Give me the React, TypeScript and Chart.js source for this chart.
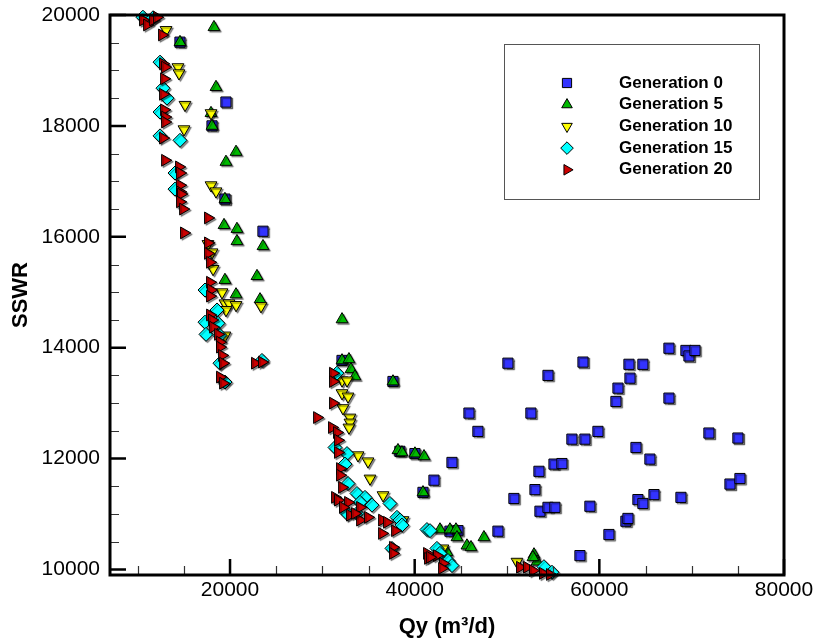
import React, { useEffect, useRef } from 'react';
import { Chart, registerables } from 'chart.js';
import { drawPoint } from 'chart.js/helpers';

Chart.register(...registerables);

const FONT = '"Liberation Sans", Arial, sans-serif';

const seriesNames = ['Generation 0', 'Generation 5', 'Generation 10', 'Generation 15', 'Generation 20'];

const xTicks = [20000, 40000, 60000, 80000];
const yTicks = [10000, 12000, 14000, 16000, 18000, 20000];

const gen0: [number, number][] = [
  [14580, 19510], [18050, 18000], [19560, 18430], [19450, 16680], [23570, 16100], [32130, 13770],
  [37650, 13390], [38400, 12130], [40030, 12090], [40900, 11390], [42090, 11610], [43820, 10690],
  [44690, 10700], [44040, 11930], [45880, 12820], [46850, 12490], [49020, 10690], [50100, 13720],
  [50750, 11280], [52590, 12820], [53030, 11440], [53460, 11770], [53570, 11050], [54440, 13500],
  [54440, 11120], [55090, 11900], [55950, 11910], [55190, 11120], [57030, 12350], [57900, 10250],
  [58230, 13740], [58440, 12350], [58980, 11140], [59850, 12490], [61040, 10630], [61800, 13030],
  [62020, 13270], [62880, 10870], [63100, 10920], [63210, 13700], [63320, 13450], [63970, 12200],
  [64180, 11260], [64720, 11190], [64720, 13700], [65480, 11990], [65920, 11350], [67540, 13990],
  [67540, 13090], [68840, 11300], [69380, 13950], [69710, 13850], [70360, 13950], [71870, 12460],
  [74150, 11540], [75010, 12370], [75230, 11640],
];

const gen5: [number, number][] = [
  [18260, 19780], [14580, 19510], [18480, 18700], [17940, 18230], [18050, 18000], [19560, 17350],
  [20650, 17530], [19450, 16680], [19350, 16210], [20750, 16140], [20750, 15920], [23570, 15830],
  [19450, 15220], [22920, 15290], [20650, 14960], [23250, 14870], [32130, 14510], [32130, 13770],
  [32880, 13790], [33100, 13610], [33530, 13480], [37650, 13390], [38190, 12150], [38620, 12110],
  [40030, 12090], [41010, 12040], [40900, 11390], [42740, 10720], [43820, 10720], [44470, 10720],
  [44580, 10580], [45660, 10430], [46100, 10400], [47500, 10580], [43500, 10310], [52920, 10270],
  [53250, 10140], [52810, 10220],
];

const gen10: [number, number][] = [
  [13070, 19730], [14360, 19060], [14470, 18950], [15120, 18380], [17940, 18230], [15010, 17940],
  [17940, 16930], [18480, 16820], [17610, 15870], [18050, 15720], [18160, 15420], [19130, 15000],
  [19450, 14800], [19890, 14800], [19560, 14680], [20650, 14770], [23350, 14750], [19450, 14220],
  [32130, 13410], [32670, 13410], [32130, 13180], [32780, 13120], [32230, 12910], [32990, 12740],
  [32990, 12650], [32880, 12560], [33860, 12060], [34940, 11950], [35160, 11640], [36570, 11340],
  [38730, 10890], [43060, 10380], [51080, 10140],
];

const gen15: [number, number][] = [
  [10570, 19960], [11660, 19950], [12420, 19150], [12740, 18680], [13170, 18500], [12420, 18250],
  [12420, 17820], [14580, 17740], [14040, 17150], [14040, 16860], [17290, 15040], [18590, 14680],
  [18700, 14440], [17290, 14460], [17400, 14240], [18910, 14220], [18910, 13720], [19450, 13380],
  [23460, 13770], [31580, 13540], [31370, 12200], [32670, 12090], [32450, 11900], [32780, 11550],
  [33750, 11370], [34620, 11300], [34080, 11210], [35380, 11160], [37320, 11190], [32670, 11010],
  [33750, 11010], [38080, 10940], [38410, 10890], [38620, 10800], [41330, 10720], [41660, 10700],
  [37540, 10380], [42410, 10380], [42740, 10290], [43610, 10160], [44040, 10070], [54000, 10050],
  [54870, 9950],
];

const gen20: [number, number][] = [
  [10570, 19910], [11010, 19820], [11660, 19910], [12090, 19960], [12630, 19640], [12740, 19120],
  [12960, 19060], [12850, 18850], [12740, 18570], [12850, 18290], [12960, 18160], [12960, 18070],
  [12740, 17780], [12960, 17380], [14470, 17260], [14580, 17150], [14580, 16930], [14580, 16810],
  [14690, 16770], [14580, 16630], [14910, 16500], [17610, 16340], [15010, 16070], [17610, 15890],
  [17610, 15700], [17830, 15540], [17830, 15180], [17940, 15040], [17830, 14930], [17830, 14590],
  [18050, 14500], [18160, 14370], [18700, 14240], [18910, 14100], [18910, 14010], [19130, 13860],
  [19240, 13720], [18910, 13470], [19240, 13360], [22700, 13720], [23460, 13740], [29420, 12740],
  [31150, 13540], [31150, 13390], [31150, 13000], [31040, 12560], [31580, 12470], [31690, 12330],
  [31690, 12110], [31910, 11820], [31910, 11700], [32130, 11480], [31370, 11300], [31690, 11250],
  [32780, 11210], [32230, 11120], [32990, 10980], [34080, 10890], [34940, 10940], [36460, 10890],
  [37000, 10850], [37870, 10700], [36460, 10650], [37650, 10400], [37650, 10290], [41330, 10290],
  [41440, 10200], [42410, 10250], [43060, 10110], [42960, 10020], [41660, 10220], [51400, 10040],
  [52160, 10040], [52810, 9980], [53890, 9930], [54650, 9910], [34080, 11120], [33530, 11010],
];

const seriesData = [gen0, gen5, gen10, gen15, gen20];

const styles = [
  { pointStyle: 'rect', radius: 7.2, rotation: 0, color: '#3333ff' },
  { pointStyle: 'triangle', radius: 6.8, rotation: 0, color: '#00bb00' },
  { pointStyle: 'triangle', radius: 6.8, rotation: 180, color: '#ffff00' },
  { pointStyle: 'rectRot', radius: 7, rotation: 0, color: '#00ffff' },
  { pointStyle: 'triangle', radius: 6.8, rotation: 90, color: '#cc0000' },
];

const zeroPad = (s: any) => {
  s.paddingTop = 0;
  s.paddingBottom = 0;
  s.paddingLeft = 0;
  s.paddingRight = 0;
};

const framePlugin = {
  id: 'frameTicksLegend',
  beforeDatasetsDraw(chart: any) {
    const ctx = chart.ctx;
    ctx.save();
    ctx.shadowColor = 'rgba(0,0,0,0.45)';
    ctx.shadowOffsetX = 1.5;
    ctx.shadowOffsetY = 1.5;
    ctx.shadowBlur = 1;
  },
  afterDatasetsDraw(chart: any) {
    const ctx = chart.ctx;
    ctx.restore();
    const { left, right, top, bottom } = chart.chartArea;
    const xs = chart.scales.x;
    const ys = chart.scales.y;
    ctx.save();
    // minor ticks
    ctx.strokeStyle = '#333';
    ctx.lineWidth = 1.2;
    ctx.beginPath();
    for (let v = 10000; v < 80000; v += 5000) {
      if (v % 20000 === 0) continue;
      const px = Math.round(xs.getPixelForValue(v)) + 0.5;
      ctx.moveTo(px, bottom);
      ctx.lineTo(px, bottom - 9);
    }
    for (let v = 10500; v < 20000; v += 500) {
      if (v % 2000 === 0) continue;
      const py = Math.round(ys.getPixelForValue(v)) + 0.5;
      ctx.moveTo(left, py);
      ctx.lineTo(left + 9, py);
    }
    ctx.stroke();
    // major ticks
    ctx.strokeStyle = '#000';
    ctx.lineWidth = 2.5;
    ctx.beginPath();
    xTicks.forEach((v) => {
      const px = xs.getPixelForValue(v);
      ctx.moveTo(px, bottom);
      ctx.lineTo(px, bottom - 16);
    });
    yTicks.forEach((v) => {
      const py = ys.getPixelForValue(v);
      ctx.moveTo(left, py);
      ctx.lineTo(left + 16, py);
    });
    ctx.stroke();
    // frame
    ctx.lineWidth = 3;
    ctx.strokeRect(left, top, right - left, bottom - top);

    // legend
    const bx = 504, by = 44, bw = 255, bh = 155;
    ctx.fillStyle = '#fff';
    ctx.fillRect(bx, by, bw, bh);
    ctx.strokeStyle = '#555';
    ctx.lineWidth = 1;
    ctx.strokeRect(bx + 0.5, by + 0.5, bw, bh);
    ctx.font = `bold 17px ${FONT}`;
    ctx.textBaseline = 'middle';
    ctx.textAlign = 'left';
    seriesNames.forEach((name, i) => {
      const cy = 83 + i * 21.7;
      const st = styles[i];
      ctx.fillStyle = st.color;
      ctx.strokeStyle = '#000';
      ctx.lineWidth = 1;
      drawPoint(ctx, { pointStyle: st.pointStyle, radius: st.radius - 0.7, rotation: st.rotation, borderWidth: 1 } as any, 567, cy);
      ctx.fillStyle = '#000';
      ctx.fillText(name, 619, cy);
    });
    ctx.restore();
  },
};

export default function App() {
  const canvasRef = useRef<HTMLCanvasElement | null>(null);

  useEffect(() => {
    if (!canvasRef.current) return;
    const datasets = seriesData.map((pts, i) => ({
      label: seriesNames[i],
      data: pts.map(([x, y]) => ({ x, y })),
      showLine: false,
      pointStyle: styles[i].pointStyle as any,
      pointRadius: styles[i].radius,
      pointHoverRadius: styles[i].radius,
      pointRotation: styles[i].rotation,
      pointBackgroundColor: styles[i].color,
      pointBorderColor: '#000',
      pointBorderWidth: 1,
      backgroundColor: styles[i].color,
      borderColor: '#000',
      order: 5 - i,
      clip: false as any,
    }));
    const chart = new Chart(canvasRef.current, {
      type: 'scatter',
      data: { datasets },
      options: {
        animation: false,
        responsive: false,
        events: [],
        layout: { padding: { left: 0, top: 15, right: 31, bottom: 0 } },
        plugins: { legend: { display: false }, tooltip: { enabled: false } },
        scales: {
          x: {
            type: 'linear',
            min: 7000,
            max: 80000,
            afterBuildTicks: (s: any) => { s.ticks = xTicks.map((v) => ({ value: v })); },
            afterFit: (s: any) => { s.height = 69; zeroPad(s); },
            grid: { display: false, drawTicks: false },
            border: { display: false },
            ticks: {
              padding: 3,
              color: '#000',
              font: { family: FONT, size: 21 },
              maxRotation: 0,
              autoSkip: false,
              callback: (v: any) => String(v),
            },
            title: {
              display: true,
              text: 'Qy (m³/d)',
              color: '#000',
              font: { family: FONT, size: 22, weight: 'bold' },
              padding: { top: 0, bottom: 4 },
            },
          },
          y: {
            type: 'linear',
            min: 9900,
            max: 20000,
            afterBuildTicks: (s: any) => { s.ticks = yTicks.map((v) => ({ value: v })); },
            afterFit: (s: any) => { s.width = 110; zeroPad(s); },
            grid: { display: false, drawTicks: false },
            border: { display: false },
            ticks: {
              padding: 10,
              color: '#000',
              font: { family: FONT, size: 21 },
              autoSkip: false,
              callback: (v: any) => String(v),
            },
            title: {
              display: true,
              text: 'SSWR',
              color: '#000',
              font: { family: FONT, size: 22, weight: 'bold' },
              padding: { top: 8, bottom: 0 },
            },
          },
        },
      },
      plugins: [framePlugin],
    });
    return () => chart.destroy();
  }, []);

  return (
    <div style={{ position: 'absolute', left: 0, top: 0, width: 815, height: 644, background: '#fff' }}>
      <canvas ref={canvasRef} width={815} height={644} style={{ width: 815, height: 644, display: 'block' }} />
    </div>
  );
}
